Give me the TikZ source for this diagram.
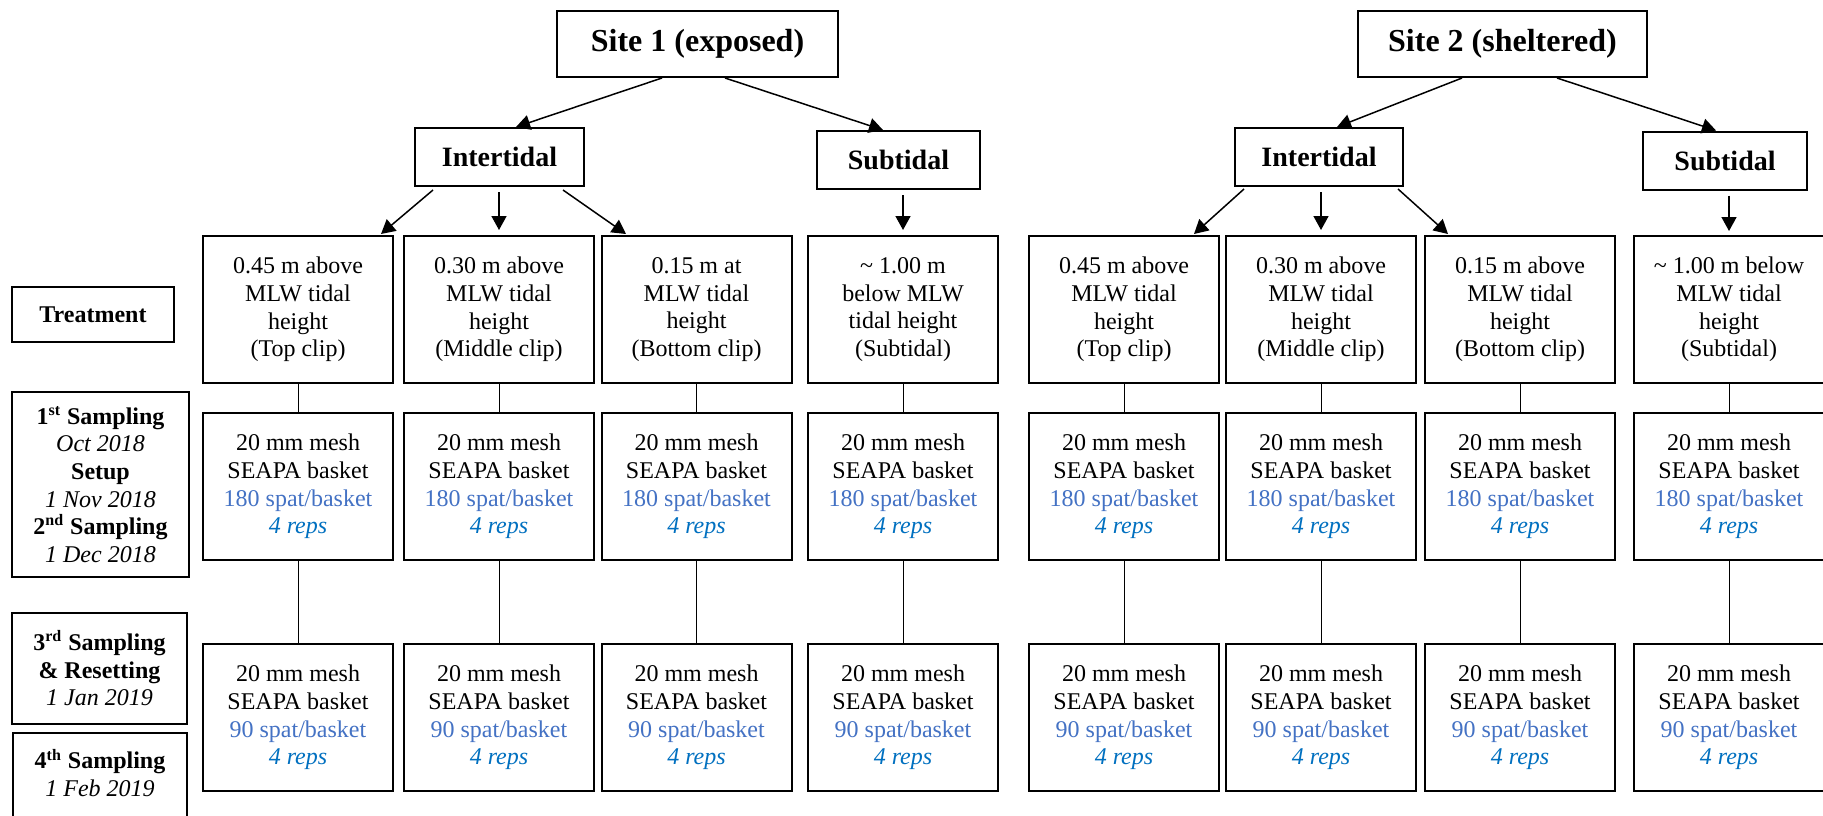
\documentclass[tikz,border=0pt]{standalone}
\usepackage{fontspec}
\setmainfont{Liberation Serif}
\usetikzlibrary{arrows.meta,positioning,calc}
\definecolor{spatblue}{HTML}{4472C4}
\definecolor{repblue}{HTML}{0070C0}
\tikzset{
	plainbox/.style={
		rectangle, draw=black, line width=1pt, fill=white,
		align=center, inner sep=2pt
	},
	%
	sitebox/.style={
		plainbox, minimum height=33pt,
		font=\fontsize{16}{18}\selectfont\bfseries
	},
	%
	zonebox/.style={
		plainbox, minimum height=29pt,
		font=\fontsize{14}{16}\selectfont\bfseries
	},
	%
	treatbox/.style={
		plainbox, minimum width=95pt, minimum height=73.5pt,
		font=\fontsize{12}{13.8}\selectfont
	},
	%
	labelbox/.style={
		plainbox, font=\fontsize{12}{13.8}\selectfont
	},
	%
	arrowline/.style={
		-{Triangle[length=7pt,width=7.5pt]}, line width=0.75pt
	},
	%
	thinline/.style={
		line width=0.5pt
	}
}

\begin{document}
\begin{tikzpicture}[x=0.5pt,y=-0.5pt]
    \useasboundingbox (0,0) rectangle (1823,815);
    \clip (0,0) rectangle (1823,815);
    % sites and zones
    \node(s1)[sitebox, minimum width=140.5pt] at (697.5,44) {Site 1 (exposed)};
    \node(s2)[sitebox, minimum width=144.5pt] at (1502.5,44) {Site 2 (sheltered)};
    \node(i1)[zonebox, minimum width=84.5pt] at (499.5,157) {Intertidal};
    \node(u1)[zonebox, minimum width=81.5pt] at (898.5,160) {Subtidal};
    \node(i2)[zonebox, minimum width=84pt] at (1319,157) {Intertidal};
    \node(u2)[zonebox, minimum width=82pt] at (1725,160.5) {Subtidal};
    % row labels
    \node(tr)[labelbox, minimum width=81pt, minimum height=27.5pt] at (93,314.5) {\textbf{Treatment}};
    \node(p1)[labelbox, minimum width=88.5pt, minimum height=92.5pt] at (100.5,484.5) {\textbf{1\textsuperscript{st} Sampling}\\\textit{Oct 2018}\\\textbf{Setup}\\\textit{1 Nov 2018}\\\textbf{2\textsuperscript{nd} Sampling}\\\textit{1 Dec 2018}};
    \node(p3)[labelbox, minimum width=87.5pt, minimum height=55.5pt] at (99.5,668.5) {\textbf{3\textsuperscript{rd} Sampling}\\\textbf{\& Resetting}\\\textit{1 Jan 2019}};
    \node(p4)[labelbox, minimum width=87pt, anchor=north, inner ysep=8pt] at (100,732) {\textbf{4\textsuperscript{th} Sampling}\\\textit{1 Feb 2019}\\[30pt]\mbox{}};
    % treatments
    \node(t1)[treatbox] at (298,309.5) {0.45 m above\\MLW tidal\\height\\(Top clip)};
    \node(t2)[treatbox] at (499,309.5) {0.30 m above\\MLW tidal\\height\\(Middle clip)};
    \node(t3)[treatbox] at (696.5,309.5) {0.15 m at\\MLW tidal\\height\\(Bottom clip)};
    \node(t4)[treatbox] at (903,309.5) {\textasciitilde{} 1.00 m\\below MLW\\tidal height\\(Subtidal)};
    \node(t5)[treatbox] at (1124,309.5) {0.45 m above\\MLW tidal\\height\\(Top clip)};
    \node(t6)[treatbox] at (1321,309.5) {0.30 m above\\MLW tidal\\height\\(Middle clip)};
    \node(t7)[treatbox] at (1520,309.5) {0.15 m above\\MLW tidal\\height\\(Bottom clip)};
    \node(t8)[treatbox] at (1729,309.5) {\textasciitilde{} 1.00 m below\\MLW tidal\\height\\(Subtidal)};
    % baskets, first stocking
    \node(a1)[treatbox, below=14pt of t1] {20 mm mesh\\SEAPA basket\\\textcolor{spatblue}{180 spat/basket}\\\textcolor{repblue}{\textit{4 reps}}};
    \node(a2)[treatbox, below=14pt of t2] {20 mm mesh\\SEAPA basket\\\textcolor{spatblue}{180 spat/basket}\\\textcolor{repblue}{\textit{4 reps}}};
    \node(a3)[treatbox, below=14pt of t3] {20 mm mesh\\SEAPA basket\\\textcolor{spatblue}{180 spat/basket}\\\textcolor{repblue}{\textit{4 reps}}};
    \node(a4)[treatbox, below=14pt of t4] {20 mm mesh\\SEAPA basket\\\textcolor{spatblue}{180 spat/basket}\\\textcolor{repblue}{\textit{4 reps}}};
    \node(a5)[treatbox, below=14pt of t5] {20 mm mesh\\SEAPA basket\\\textcolor{spatblue}{180 spat/basket}\\\textcolor{repblue}{\textit{4 reps}}};
    \node(a6)[treatbox, below=14pt of t6] {20 mm mesh\\SEAPA basket\\\textcolor{spatblue}{180 spat/basket}\\\textcolor{repblue}{\textit{4 reps}}};
    \node(a7)[treatbox, below=14pt of t7] {20 mm mesh\\SEAPA basket\\\textcolor{spatblue}{180 spat/basket}\\\textcolor{repblue}{\textit{4 reps}}};
    \node(a8)[treatbox, below=14pt of t8] {20 mm mesh\\SEAPA basket\\\textcolor{spatblue}{180 spat/basket}\\\textcolor{repblue}{\textit{4 reps}}};
    % baskets, after resetting
    \node(b1)[treatbox, below=41pt of a1] {20 mm mesh\\SEAPA basket\\\textcolor{spatblue}{90 spat/basket}\\\textcolor{repblue}{\textit{4 reps}}};
    \node(b2)[treatbox, below=41pt of a2] {20 mm mesh\\SEAPA basket\\\textcolor{spatblue}{90 spat/basket}\\\textcolor{repblue}{\textit{4 reps}}};
    \node(b3)[treatbox, below=41pt of a3] {20 mm mesh\\SEAPA basket\\\textcolor{spatblue}{90 spat/basket}\\\textcolor{repblue}{\textit{4 reps}}};
    \node(b4)[treatbox, below=41pt of a4] {20 mm mesh\\SEAPA basket\\\textcolor{spatblue}{90 spat/basket}\\\textcolor{repblue}{\textit{4 reps}}};
    \node(b5)[treatbox, below=41pt of a5] {20 mm mesh\\SEAPA basket\\\textcolor{spatblue}{90 spat/basket}\\\textcolor{repblue}{\textit{4 reps}}};
    \node(b6)[treatbox, below=41pt of a6] {20 mm mesh\\SEAPA basket\\\textcolor{spatblue}{90 spat/basket}\\\textcolor{repblue}{\textit{4 reps}}};
    \node(b7)[treatbox, below=41pt of a7] {20 mm mesh\\SEAPA basket\\\textcolor{spatblue}{90 spat/basket}\\\textcolor{repblue}{\textit{4 reps}}};
    \node(b8)[treatbox, below=41pt of a8] {20 mm mesh\\SEAPA basket\\\textcolor{spatblue}{90 spat/basket}\\\textcolor{repblue}{\textit{4 reps}}};
    % arrows
    \draw[arrowline] ($(s1.south)+(-35.5,0)$) -- ($(i1.north)+(16.5,0)$);
    \draw[arrowline] ($(s1.south)+(27.5,0)$) -- ($(u1.north)+(-15.5,0)$);
    \draw[arrowline] ($(s2.south)+(-40.5,0)$) -- ($(i2.north)+(18,0)$);
    \draw[arrowline] ($(s2.south)+(54.5,0)$) -- ($(u2.north)+(-9,0)$);
    \draw[arrowline] ($(i1.south)+(-66.5,3)$) -- ($(t1.north east)+(-13,-1)$);
    \draw[arrowline] ($(t2.north |- i1.south)+(0,5)$) -- ($(t2.north)+(0,-5)$);
    \draw[arrowline] ($(i1.south)+(63.5,3)$) -- ($(t3.north west)+(25.5,-1)$);
    \draw[arrowline] ($(t4.north |- u1.south)+(0,5)$) -- ($(t4.north)+(0,-5)$);
    \draw[arrowline] ($(i2.south)+(-75,2)$) -- ($(t5.north east)+(-26,-1)$);
    \draw[arrowline] ($(t6.north |- i2.south)+(0,5)$) -- ($(t6.north)+(0,-5)$);
    \draw[arrowline] ($(i2.south)+(79,2)$) -- ($(t7.north west)+(24,-1)$);
    \draw[arrowline] ($(t8.north |- u2.south)+(0,5)$) -- ($(t8.north)+(0,-4)$);
    % plain links down the columns
    \draw[thinline] (t1) -- (a1); \draw[thinline] (a1) -- (b1);
    \draw[thinline] (t2) -- (a2); \draw[thinline] (a2) -- (b2);
    \draw[thinline] (t3) -- (a3); \draw[thinline] (a3) -- (b3);
    \draw[thinline] (t4) -- (a4); \draw[thinline] (a4) -- (b4);
    \draw[thinline] (t5) -- (a5); \draw[thinline] (a5) -- (b5);
    \draw[thinline] (t6) -- (a6); \draw[thinline] (a6) -- (b6);
    \draw[thinline] (t7) -- (a7); \draw[thinline] (a7) -- (b7);
    \draw[thinline] (t8) -- (a8); \draw[thinline] (a8) -- (b8);
\end{tikzpicture}
\end{document}
